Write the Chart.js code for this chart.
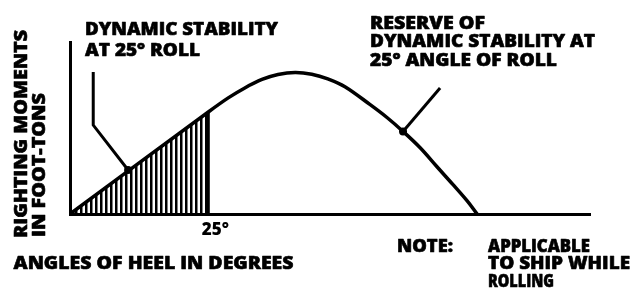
<!DOCTYPE html>
<html><head><meta charset="utf-8">
<script src="https://cdn.jsdelivr.net/npm/chart.js@4.4.1/dist/chart.umd.min.js"></script>
<style>html,body{margin:0;padding:0;background:#fff;overflow:hidden}#wrap{position:relative;width:631px;height:294px}</style>
</head><body><div id="wrap"><canvas id="c" width="631" height="294"></canvas></div>
<script>
// Righting-moment curve (angle of heel in degrees -> righting moment, relative units)
const curveAngles  = [0, 25, 28.6, 31.6, 34.7, 37.6, 40.7, 43.7, 46.6, 49.7, 54.2, 57.3, 60.2, 63.3, 66.3, 69.2, 71.8, 73.6];
const curveMoments = [0, 59.3, 67.5, 73.3, 78.2, 81.1, 82.3, 81.3, 78.6, 74.0, 63.7, 56.1, 48.0, 38.5, 27.6, 17.2, 7.6, 0];
// Hatched area: dynamic stability up to 25 degrees of roll
const rollAngles  = [0, 25];
const rollMoments = [0, 59.3];
// Axis ticks
const xTickValues = [25];
const xTickLabels = ['25°'];
// Leader lines (data units)
const leaderAx = [4.2, 4.2, 10.5];
const leaderAy = [82.6, 51.7, 25.6];
const leaderBx = [60.2, 66.9];
const leaderBy = [48.0, 73.3];
// Texts
const yTitle = ['RIGHTING MOMENTS', 'IN FOOT-TONS'];
const xTitle = 'ANGLES OF HEEL IN DEGREES';
const noteA = ['DYNAMIC STABILITY', 'AT 25° ROLL'];
const noteB = ['RESERVE OF', 'DYNAMIC STABILITY AT', '25° ANGLE OF ROLL'];
const noteLabel = 'NOTE:';
const noteText = ['APPLICABLE', 'TO SHIP WHILE', 'ROLLING'];

const pts = (xs, ys) => xs.map((x, i) => ({x, y: ys[i]}));

// hatch pattern
const pc = document.createElement('canvas');
pc.width = 5; pc.height = 8;
const pctx = pc.getContext('2d');
pctx.fillStyle = '#000';
pctx.fillRect(0, 0, 2.5, 8);
const hatch = document.getElementById('c').getContext('2d').createPattern(pc, 'repeat');

const FONT = '"Open Sans", "Liberation Sans", sans-serif';
function fitText(ctx, str, x, y, w, size, rot) {
  ctx.save();
  ctx.font = `800 ${size}px ${FONT}`;
  ctx.fillStyle = '#000';
  ctx.strokeStyle = '#000';
  ctx.lineWidth = 0.6;
  ctx.lineJoin = 'round';
  ctx.textBaseline = 'alphabetic';
  ctx.textAlign = 'left';
  ctx.translate(x, y);
  if (rot) ctx.rotate(-Math.PI / 2);
  const m = ctx.measureText(str).width;
  ctx.scale(w / m, 1);
  ctx.fillText(str, 0, 0);
  ctx.strokeText(str, 0, 0);
  ctx.restore();
}

const textPlugin = {
  id: 'texts',
  afterDraw(chart) {
    const ctx = chart.ctx;
    fitText(ctx, yTitle[0], 27, 238, 208, 17, true);
    fitText(ctx, yTitle[1], 45, 237, 144, 17, true);
    fitText(ctx, noteA[0], 85, 35, 193, 17.5);
    fitText(ctx, noteA[1], 85, 55.5, 115, 17.5);
    fitText(ctx, noteB[0], 370, 28.5, 115, 17);
    fitText(ctx, noteB[1], 370, 46.5, 225, 17);
    fitText(ctx, noteB[2], 370, 65.5, 187, 17);
    fitText(ctx, xTitle, 13.5, 269, 280, 17.5);
    fitText(ctx, noteLabel, 397, 251.5, 56, 17);
    fitText(ctx, noteText[0], 488, 251.5, 102, 17);
    fitText(ctx, noteText[1], 488, 268.5, 142, 17);
    fitText(ctx, noteText[2], 488, 286.5, 66, 17);
  }
};

Chart.defaults.font.family = FONT;
Chart.defaults.color = '#000';

new Chart(document.getElementById('c'), {
  type: 'scatter',
  data: {
    datasets: [
      { data: pts(rollAngles, rollMoments), showLine: true, fill: 'origin', backgroundColor: hatch,
        borderWidth: 0, borderColor: 'rgba(0,0,0,0)', pointRadius: 0, order: 5 },
      { data: [{x: rollAngles[1], y: 0}, {x: rollAngles[1], y: rollMoments[1]}], showLine: true,
        borderColor: '#000', borderWidth: 3, pointRadius: 0, fill: false, order: 4 },
      { data: pts(curveAngles, curveMoments), showLine: true, borderColor: '#000', borderWidth: 3.5,
        tension: 0.35, pointRadius: 0, fill: false, borderCapStyle: 'round', order: 1 },
      { data: pts(leaderAx, leaderAy), showLine: true, borderColor: '#000', borderWidth: 3,
        pointRadius: [0, 0, 4], pointBackgroundColor: '#000', pointBorderWidth: 0, fill: false, order: 2 },
      { data: pts(leaderBx, leaderBy), showLine: true, borderColor: '#000', borderWidth: 3,
        pointRadius: [4, 0], pointBackgroundColor: '#000', pointBorderWidth: 0, fill: false, order: 2 }
    ]
  },
  options: {
    responsive: false,
    animation: false,
    devicePixelRatio: 1,
    layout: { padding: { left: 70, top: 42, right: 41, bottom: 0 } },
    plugins: { legend: { display: false }, tooltip: { enabled: false } },
    scales: {
      x: {
        type: 'linear', min: 0, max: 94,
        grid: { display: false, drawTicks: false },
        border: { display: true, color: '#000', width: 3 },
        afterBuildTicks: (s) => { s.ticks = xTickValues.map(v => ({value: v})); },
        ticks: {
          callback: (v) => xTickLabels[xTickValues.indexOf(v)] ?? '',
          font: { size: 17, weight: 800 }, color: '#000', padding: 6, labelOffset: 7, maxRotation: 0
        },
        afterFit: (s) => { s.height = 80; }
      },
      y: {
        type: 'linear', min: 0, max: 100,
        grid: { display: false, drawTicks: false },
        border: { display: true, color: '#000', width: 3 },
        ticks: { display: false },
        afterFit: (s) => { s.width = 0; }
      }
    }
  },
  plugins: [textPlugin]
});
</script></body></html>
